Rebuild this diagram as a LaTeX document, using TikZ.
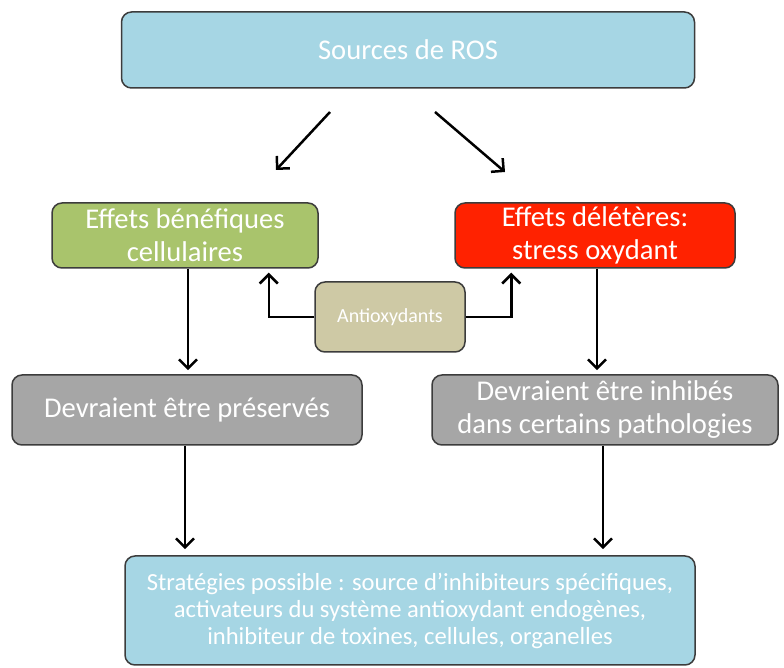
\documentclass[tikz,border=0pt]{standalone}
\usepackage{fontspec}
\setmainfont{Carlito}
\usetikzlibrary{arrows.meta,positioning,calc}

\definecolor{rosblue}{RGB}{166,214,228}
\definecolor{goodgreen}{RGB}{169,196,108}
\definecolor{badred}{RGB}{255,34,0}
\definecolor{antikhaki}{RGB}{206,201,165}
\definecolor{boxgray}{RGB}{166,166,166}
\definecolor{edgegray}{RGB}{60,60,60}

\tikzset{
    box/.style={draw=edgegray, line width=0.75pt, rounded corners=5pt, inner sep=0pt,
        text=white, align=center, font=\fontsize{14.3}{16.5}\selectfont},
    arr/.style={-{Straight Barb[length=4.5pt,width=9pt]}, line width=1.25pt, black},
}

\begin{document}
\begin{tikzpicture}[x=0.5pt, y=-0.5pt]
    \useasboundingbox (0, 0) rectangle (784, 668);

    % Top source
    \node[box, fill=rosblue, minimum width=286.5pt, minimum height=38pt] (src) at (408, 50) {Sources de ROS};

    % Effects
    \node[box, fill=goodgreen, minimum width=133pt, minimum height=32.5pt] (good) at (185, 235.5) {Effets bénéfiques\\cellulaires};
    \node[box, fill=badred, minimum width=140pt, minimum height=32.5pt] (bad) at (595, 235.5) {Effets délétères:\\stress oxydant};
    \node[box, fill=antikhaki, minimum width=75pt, minimum height=35pt, font=\fontsize{10}{12}\selectfont] (anti) at (390, 317) {Antioxydants};

    % Consequences
    \node[box, fill=boxgray, minimum width=175pt, minimum height=35pt] (keep) at (187, 410) {Devraient être préservés};
    \node[box, fill=boxgray, minimum width=173pt, minimum height=35pt] (stop) at (605, 410) {Devraient être inhibés\\dans certains pathologies};

    % Strategies
    \node[box, fill=rosblue, minimum width=285pt, minimum height=54.5pt, font=\fontsize{12.3}{13.5}\selectfont] (strat) at (410, 610.5)
        {Stratégies possible : source d’inhibiteurs spécifiques,\\activateurs du système antioxydant endogènes,\\inhibiteur de toxines, cellules, organelles};

    % Split arrows under the source
    \coordinate (sl) at (330, 112);
    \coordinate (el) at (276, 170);
    \coordinate (sr) at (435, 112);
    \coordinate (er) at (505, 172);
    \draw[arr] (sl) -- (el);
    \draw[arr] (sr) -- (er);

    % Antioxydants act on both sides
    \draw[arr] (anti.west) -| ([xshift=-25pt, yshift=-2pt]good.south east);
    \draw[arr] (anti.east) -| ([xshift=28.5pt, yshift=-2pt]bad.south west);

    % Downward flow
    \draw[arr] ([xshift=1.5pt]good.south) -- ([xshift=1.5pt, yshift=2pt]good.south |- keep.north);
    \draw[arr] ([xshift=1pt]bad.south) -- ([xshift=1pt, yshift=2pt]bad.south |- stop.north);
    \draw[arr] ([xshift=-1pt]keep.south) -- ([xshift=-1pt, yshift=3pt]keep.south |- strat.north);
    \draw[arr] ([xshift=-1pt]stop.south) -- ([xshift=-1pt, yshift=3pt]stop.south |- strat.north);
\end{tikzpicture}
\end{document}
